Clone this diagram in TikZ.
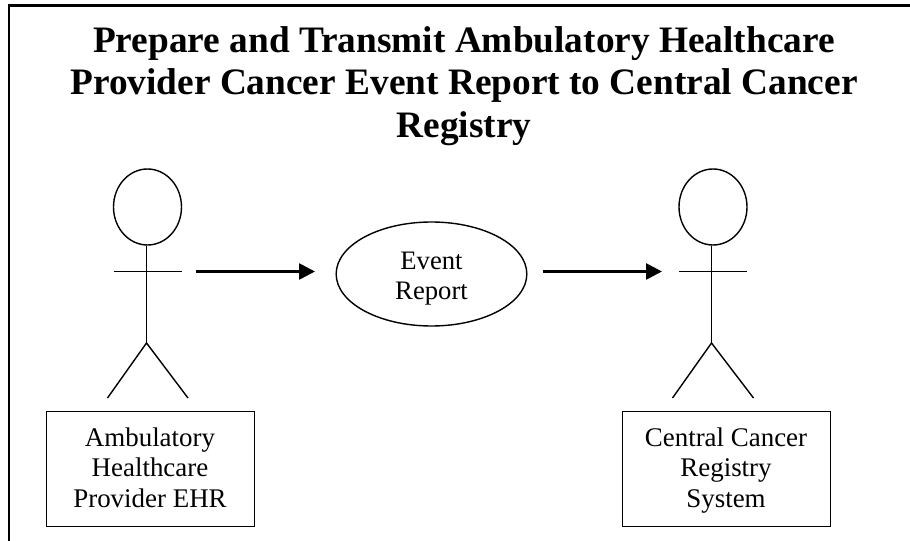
\documentclass[tikz,border=0pt]{standalone}
\usepackage{fontspec}
\setmainfont{Liberation Serif}
\usetikzlibrary{shapes.geometric,arrows.meta}
\newcommand\boxstrut{\rule[-6.4pt]{0pt}{24.4pt}}
\newcommand\casetop{\rule{0pt}{20.1pt}}
\newcommand\casebottom{\rule[-4.3pt]{0pt}{10pt}}
\tikzset{
 x=0.75pt,y=-0.75pt,
 frameline/.style={line width=1.7pt,line cap=rect},
 limb/.style={line width=1.05pt,line cap=butt},
 flow/.style={line width=2pt,-{Triangle[length=12pt,width=12pt]}},
 headshape/.style={draw,ellipse,line width=1.05pt,minimum width=51pt,minimum height=57pt,inner sep=0pt},
 usecase/.style={draw,ellipse,line width=1.05pt,minimum width=143pt,minimum height=78pt,inner sep=0pt,align=center,font=\fontsize{20}{23}\selectfont},
 labelbox/.style={draw,line width=0.75pt,minimum width=156pt,minimum height=86pt,inner sep=0pt,align=center,font=\fontsize{20.2}{23}\selectfont},
 titletext/.style={inner sep=0pt,align=center,font=\fontsize{28}{32}\selectfont\bfseries}
}
\begin{document}
\begin{tikzpicture}
\useasboundingbox (0,0) rectangle (910,541);
\draw[frameline] (9,545) -- (9,5.5) -- (915,5.5);
\node[titletext] (title) at (464,86) {Prepare and Transmit Ambulatory Healthcare\\Provider Cancer Event Report to Central Cancer\\Registry};
% left actor
\node[headshape] (headL) at (147.5,207) {};
\coordinate (hipL) at (146.5,343);
\coordinate (armLa) at (113.5,271.5);
\coordinate (armLb) at (182,271.5);
\coordinate (footLa) at (107.5,398);
\coordinate (footLb) at (188,398);
\draw[limb] (headL.south -| hipL) -- (hipL);
\draw[limb] (armLa) -- (armLb);
\draw[limb] (footLa) -- (hipL) -- (footLb);
\node[labelbox] (boxL) at (150,469) {\boxstrut Ambulatory\\Healthcare\\\boxstrut Provider EHR};
% right actor
\node[headshape] (headR) at (713,207) {};
\coordinate (hipR) at (711.5,343);
\coordinate (armRa) at (679,271.5);
\coordinate (armRb) at (747,271.5);
\coordinate (footRa) at (672.5,398);
\coordinate (footRb) at (753.5,398);
\draw[limb] (headR.south -| hipR) -- (hipR);
\draw[limb] (armRa) -- (armRb);
\draw[limb] (footRa) -- (hipR) -- (footRb);
\node[labelbox] (boxR) at (726,469) {\boxstrut Central Cancer\\Registry\\\boxstrut System};
% use case
\node[usecase] (report) at (431.5,274) {\casetop Event\\\casebottom Report};
\coordinate (flowAs) at (196,271.5);
\coordinate (flowAe) at (315,271.5);
\coordinate (flowBs) at (542.5,271.5);
\coordinate (flowBe) at (662,271.5);
\draw[flow] (flowAs) -- (flowAe);
\draw[flow] (flowBs) -- (flowBe);
\end{tikzpicture}
\end{document}
